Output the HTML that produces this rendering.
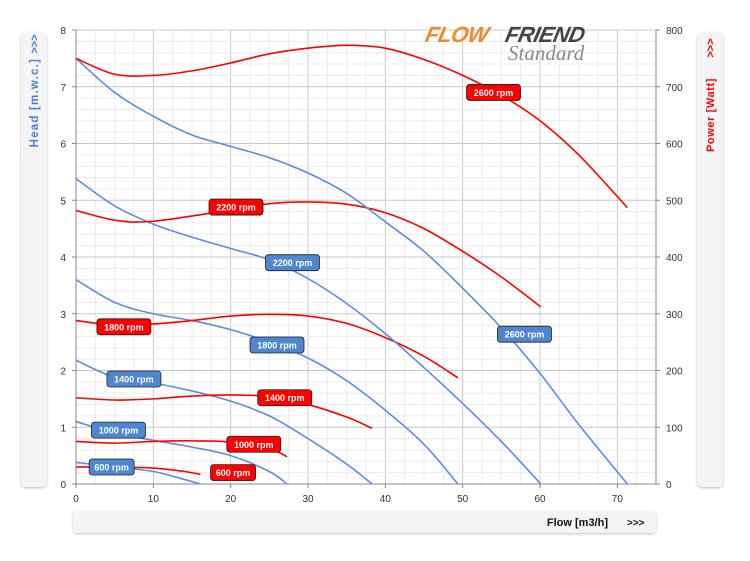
<!DOCTYPE html>
<html><head><meta charset="utf-8">
<style>
body{margin:0;background:#fff;width:750px;height:561px;overflow:hidden;font-family:"Liberation Sans",sans-serif}
svg{position:absolute;left:0;top:0}
</style></head>
<body>
<svg id="chart" width="750" height="561">
<defs>
<filter id="sh" x="-20%" y="-20%" width="140%" height="140%"><feDropShadow dx="0" dy="1" stdDeviation="1.2" flood-color="#000" flood-opacity="0.25"/></filter>
</defs>
<rect x="21" y="32" width="26" height="455" rx="4" fill="#f4f4f4" filter="url(#sh)"/>
<text transform="translate(38,44) rotate(-90)" text-anchor="middle" font-size="11" font-weight="bold" fill="#4a7fd4">&gt;&gt;&gt;</text>
<text transform="translate(38,58) rotate(-90)" text-anchor="end" font-size="11.5" font-weight="bold" fill="#4a7fd4" letter-spacing="1.2">Head [m.w.c.]</text>
<rect x="697" y="32" width="26" height="455" rx="4" fill="#f4f4f4" filter="url(#sh)"/>
<text transform="translate(714,48) rotate(-90)" text-anchor="middle" font-size="11" font-weight="bold" fill="#ff0000">&gt;&gt;&gt;</text>
<text transform="translate(714,78) rotate(-90)" text-anchor="end" font-size="11" font-weight="bold" fill="#ff0000" letter-spacing="0.6">Power  [Watt]</text>
<rect x="73" y="511" width="583" height="22" rx="4" fill="#f4f4f4" filter="url(#sh)"/>
<text x="608" y="526" text-anchor="end" font-size="11" font-weight="bold" fill="#111">Flow [m3/h]</text>
<text x="627" y="526" font-size="10" font-weight="bold" fill="#111">&gt;&gt;&gt;</text>
<g id="grid"></g>
<g>
<text x="425" y="42" font-size="22" font-weight="bold" font-style="italic" fill="#f08a2c" letter-spacing="-0.5" transform="skewX(-12) translate(8,0)">FLOW</text>
<text x="505" y="42" font-size="22" font-weight="bold" font-style="italic" fill="#3f4447" letter-spacing="-0.5" transform="skewX(-12) translate(8,0)">FRIEND</text>
<text x="508" y="60" font-size="21" font-style="italic" font-family="Liberation Serif,serif" fill="#888">Standard</text>
</g>
<g id="series"></g>
<g id="labels"></g>
</svg>
<script>
const flowTicks=[0,10,20,30,40,50,60,70];
const headTicks=[0,1,2,3,4,5,6,7,8];
const powerTicks=[0,100,200,300,400,500,600,700,800];
const speeds=["600","1000","1400","1800","2200","2600"];
const headFlow600=[0,5,10,14,16.1], headVal600=[0.38,0.3,0.22,0.08,0];
const headFlow1000=[0,5,10,15,20,25,27.3], headVal1000=[1.1,0.9,0.77,0.65,0.5,0.22,0];
const headFlow1400=[0,5,10,15,20,25,30,35,38.3], headVal1400=[2.18,1.88,1.78,1.64,1.46,1.2,0.8,0.35,0];
const headFlow1800=[0,5,10,15,20,25,30,35,40,45,49.4], headVal1800=[3.6,3.2,3.0,2.88,2.72,2.5,2.22,1.82,1.3,0.7,0];
const headFlow2200=[0,5,10,15,20,25,30,35,40,45,50,55,60.1], headVal2200=[5.38,4.9,4.58,4.35,4.15,3.95,3.62,3.18,2.65,2.05,1.42,0.75,0];
const headFlow2600=[0,5,10,15,20,25,30,35,40,45,50,55,60,65,71.3], headVal2600=[7.5,6.9,6.48,6.15,5.95,5.75,5.48,5.12,4.62,4.1,3.45,2.75,1.95,1.05,0];
const powFlow600=[0,5,10,14,16.1], powVal600=[30,30,28,22,17];
const powFlow1000=[0,5,10,15,20,25,27.3], powVal1000=[75,72,75,76,74,62,48];
const powFlow1400=[0,5,10,15,20,25,30,35,38.3], powVal1400=[152,148,150,155,157,154,140,118,98];
const powFlow1800=[0,5,10,15,20,25,30,35,40,45,49.4], powVal1800=[288,280,282,288,296,299,296,283,258,225,187];
const powFlow2200=[0,5,10,20,25,30,35,40,45,50,55,60.1], powVal2200=[482,465,463,483,494,497,493,478,450,410,365,312];
const powFlow2600=[0,5,10,15,20,25,30,35,40,45,50,55,60,65,71.3], powVal2600=[750,722,720,728,742,758,768,773,768,748,720,685,640,580,487];
const headLabelPos=[[1.7,0.3],[2,0.95],[4,1.85],[22.5,2.45],[24.5,3.9],[54.5,2.64]];
const powLabelPos=[[17.4,20],[19.5,70],[23.5,152],[2.7,277],[17.2,488],[50.5,690]];
const headFlows=[headFlow600,headFlow1000,headFlow1400,headFlow1800,headFlow2200,headFlow2600];
const headVals=[headVal600,headVal1000,headVal1400,headVal1800,headVal2200,headVal2600];
const powFlows=[powFlow600,powFlow1000,powFlow1400,powFlow1800,powFlow2200,powFlow2600];
const powVals=[powVal600,powVal1000,powVal1400,powVal1800,powVal2200,powVal2600];

const X0=76,X1=656,Y0=484,Y1=30;
const xs=v=>X0+(X1-X0)*v/75;
const yh=v=>Y0-(Y0-Y1)*v/8;
const yp=v=>Y0-(Y0-Y1)*v/800;
const NS="http://www.w3.org/2000/svg";
function mk(t,a,p){const e=document.createElementNS(NS,t);for(const k in a)e.setAttribute(k,a[k]);p.appendChild(e);return e;}
const grid=document.getElementById('grid');
for(let f=0;f<=75;f+=2.5){const major=f%10===0;
 const l=mk('line',{x1:xs(f),x2:xs(f),y1:Y1,y2:Y0,stroke:major?'#c8c8c8':'#ececec','stroke-width':1},grid);
 
 }
for(let h=0;h<=8.001;h+=0.2){const major=Math.abs(h-Math.round(h))<0.01;
 const l=mk('line',{x1:X0,x2:X1,y1:yh(h),y2:yh(h),stroke:major?'#c8c8c8':'#ececec','stroke-width':1},grid);
 
 }
const ax=mk('path',{d:`M${X0},${Y1}V${Y0}H${X1}V${Y1}`,fill:'none',stroke:'#888','stroke-width':1},grid);


flowTicks.forEach(f=>{const t=mk('text',{x:xs(f),y:Y0+18,'text-anchor':'middle','font-size':10,fill:'#333'},grid);t.textContent=f;
 
 
 mk('line',{x1:xs(f),x2:xs(f),y1:Y0,y2:Y0+4,stroke:'#888'},grid);});
headTicks.forEach(h=>{const t=mk('text',{x:X0-10,y:yh(h)+4,'text-anchor':'end','font-size':10,fill:'#333'},grid);t.textContent=h;
 
 
 mk('line',{x1:X0-4,x2:X0,y1:yh(h),y2:yh(h),stroke:'#888'},grid);});
powerTicks.forEach(p=>{const t=mk('text',{x:X1+10,y:yp(p)+4,'font-size':10,fill:'#333'},grid);t.textContent=p;
 
 
 mk('line',{x1:X1,x2:X1+4,y1:yp(p),y2:yp(p),stroke:'#888'},grid);});
function smooth(pts){let d=`M${pts[0][0]},${pts[0][1]}`;
 for(let i=0;i<pts.length-1;i++){const p0=pts[Math.max(i-1,0)],p1=pts[i],p2=pts[i+1],p3=pts[Math.min(i+2,pts.length-1)];
  d+=`C${p1[0]+(p2[0]-p0[0])/6},${p1[1]+(p2[1]-p0[1])/6} ${p2[0]-(p3[0]-p1[0])/6},${p2[1]-(p3[1]-p1[1])/6} ${p2[0]},${p2[1]}`;}
 return d;}
const ser=document.getElementById('series');
speeds.forEach((s,i)=>{
 const hp=headFlows[i].map((f,j)=>[xs(f),yh(headVals[i][j])]);
 const e=mk('path',{d:smooth(hp),fill:'none',stroke:'#5b8fd9','stroke-width':1.6},ser);
 
 
 const pp=powFlows[i].map((f,j)=>[xs(f),yp(powVals[i][j])]);
 const r=mk('path',{d:smooth(pp),fill:'none',stroke:'#ff0000','stroke-width':1.6},ser);
 
 
});
const lab=document.getElementById('labels');
function label(x,y,txt,fill,name){
 const w=txt.length>=8?54:45;
 const g=mk('g',{},lab);
 
 
 mk('rect',{x:x,y:y-8,width:w,height:16,rx:3,fill:fill,stroke:'#222','stroke-width':0.8},g);
 const t=mk('text',{x:x+w/2,y:y+3.5,'text-anchor':'middle','font-size':9,'font-weight':'bold',fill:'#fff'},g);t.textContent=txt;}
speeds.forEach((s,i)=>{
 label(xs(headLabelPos[i][0]),yh(headLabelPos[i][1]),s+' rpm','#4f86d2','head-label-'+s);
 label(xs(powLabelPos[i][0]),yp(powLabelPos[i][1]),s+' rpm','#ff0000','power-label-'+s);
});
</script>
</body></html>
